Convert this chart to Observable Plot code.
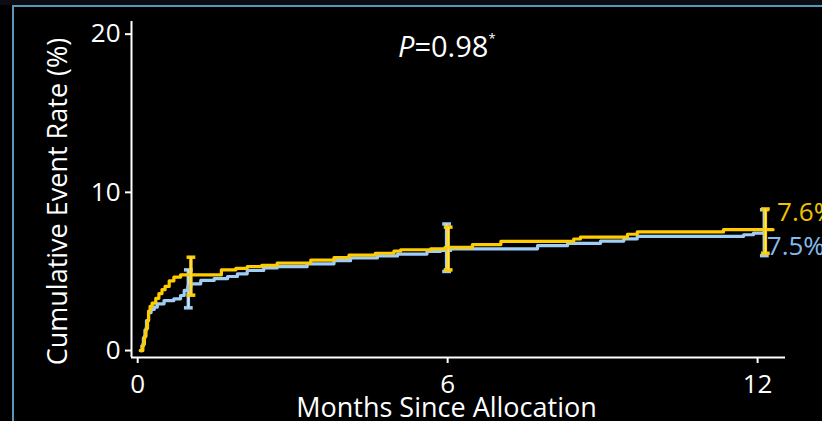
<!DOCTYPE html>
<html>
<head>
<meta charset="utf-8">
<script src="https://cdn.jsdelivr.net/npm/d3@7"></script>
<script src="https://cdn.jsdelivr.net/npm/@observablehq/plot@0.6"></script>
<style>
  html, body { margin: 0; padding: 0; background: #000; overflow: hidden; }
  #wrap { position: relative; width: 822px; height: 421px; background: #000; }
  #topstrip { position: absolute; left: 0; top: 0; width: 822px; height: 5px; background: #0b0c14; }
  #frame { position: absolute; left: 12px; top: 5px; width: 900px; height: 500px;
           border-left: 2px solid #5b95b9; border-top: 2px solid #5b95b9; pointer-events: none; }
  #pval { position: absolute; left: 398px; top: 31px; font-family: "Open Sans", sans-serif;
          font-size: 29px; color: #fff; line-height: 1; white-space: nowrap; }
  #pval sup { font-size: 13px; vertical-align: 14px; }
  svg { position: absolute; left: 0; top: 0; }
</style>
</head>
<body>
<div id="wrap">
  <div id="topstrip"></div>
  <div id="chart"></div>
  <div id="frame"></div>
  <div id="pval"><i>P</i>=0.98<sup>*</sup></div>
</div>
<script>
// ---- data ----
const seriesNames = ["Yellow group", "Blue group"];

const yellowT = [0.05,0.10,0.13,0.16,0.19,0.21,0.24,0.28,0.35,0.41,0.47,0.53,0.61,0.70,0.83,1.62,1.90,2.12,2.40,2.70,3.35,3.80,4.09,4.60,4.96,5.09,5.67,5.95,6.48,7.03,8.44,8.57,9.48,9.67,11.34,12.30];
const yellowV = [0.00,0.40,0.90,1.40,1.90,2.50,2.80,3.00,3.30,3.60,3.85,4.05,4.40,4.64,4.78,5.10,5.20,5.30,5.38,5.53,5.72,5.88,6.03,6.15,6.28,6.37,6.43,6.52,6.70,6.90,7.05,7.17,7.35,7.50,7.64,7.64];

const blueT = [0.05,0.08,0.11,0.14,0.17,0.21,0.26,0.32,0.38,0.51,0.70,0.83,0.90,0.97,1.03,1.22,1.48,1.74,1.93,2.12,2.44,2.70,3.28,3.80,4.12,4.64,5.03,5.60,5.86,6.06,7.74,8.32,8.96,9.41,9.67,11.73,11.92,12.10];
const blueV = [0.00,0.30,0.80,1.30,1.90,2.40,2.60,2.75,2.95,3.16,3.27,3.48,3.80,4.05,4.22,4.43,4.54,4.68,4.85,5.06,5.22,5.30,5.48,5.68,5.85,5.98,6.10,6.26,6.33,6.43,6.63,6.78,6.92,7.06,7.22,7.32,7.42,7.42];

// error bars: time, lower, upper
const yellowErrT  = [1.03, 6.01, 12.15];
const yellowErrLo = [3.5, 5.1, 6.15];
const yellowErrHi = [5.9, 7.8, 8.95];
const blueErrT  = [0.98, 5.98, 12.13];
const blueErrLo = [2.7, 5.0, 6.0];
const blueErrHi = [5.1, 8.0, 8.9];

const endLabels = ["7.6%", "7.5%"];
const xTicks = [0, 6, 12];
const yTicks = [0, 10, 20];
const xTitle = "Months Since Allocation";
const yTitle = "Cumulative Event Rate (%)";

// ---- styling ----
const YEL = "#ffcc00", YEL_T = "#f2c200", YEL_HI = "#fff3b0";
const BLU = "#a0cdf5", BLU_T = "#84bbec", BLU_HI = "#e4f2ff";
const FONT = "Open Sans, sans-serif";
const xDom = [-0.12, 12.54];
const yDom = [-0.44, 20.8];
const capHalf = 0.085;

const yellow = yellowT.map((t, i) => ({t, v: yellowV[i]}));
const blue = blueT.map((t, i) => ({t, v: blueV[i]}));
const mkErr = (T, Lo, Hi) => T.map((t, i) => ({t, lo: Lo[i], hi: Hi[i]}));
const yErr = mkErr(yellowErrT, yellowErrLo, yellowErrHi);
const bErr = mkErr(blueErrT, blueErrLo, blueErrHi);
const caps = e => e.flatMap(d => [{t: d.t, y: d.lo}, {t: d.t, y: d.hi}]);

const errMarks = (err, color, hi) => [
  Plot.ruleX(err, {x: "t", y1: "lo", y2: "hi", stroke: color, strokeWidth: 3.5}),
  Plot.link(caps(err), {x1: d => d.t - capHalf, x2: d => d.t + capHalf, y1: "y", y2: "y", stroke: color, strokeWidth: 3.5}),
  Plot.ruleX(err, {x: "t", y1: "lo", y2: "hi", stroke: hi, strokeWidth: 1, strokeOpacity: 0.8})
];

const lastY = yellow[yellow.length - 1], lastB = blue[blue.length - 1];

const chart = Plot.plot({
  width: 822,
  height: 421,
  marginLeft: 131,
  marginRight: 37,
  marginTop: 21,
  marginBottom: 64,
  style: {background: "transparent", color: "#fff", fontFamily: FONT, fontSize: "26px", overflow: "visible"},
  x: {domain: xDom, ticks: xTicks, tickSize: 6, tickPadding: 11, label: null, tickFormat: d => d},
  y: {domain: yDom, ticks: yTicks, tickSize: 6, tickPadding: 5, label: null, tickFormat: d => d},
  marks: [
    Plot.ruleX([xDom[0]], {stroke: "#fff", strokeWidth: 2}),
    Plot.ruleY([yDom[0]], {stroke: "#fff", strokeWidth: 2}),
    ...errMarks(bErr, BLU, BLU_HI),
    Plot.line(blue, {x: "t", y: "v", curve: "step-after", stroke: BLU, strokeWidth: 3.2}),
    Plot.line(yellow, {x: "t", y: "v", curve: "step-after", stroke: YEL, strokeWidth: 3.2}),
    ...errMarks(yErr, YEL, YEL_HI),
    Plot.text([lastY], {x: "t", y: "v", text: () => endLabels[0], fill: YEL_T, textAnchor: "start", lineAnchor: "middle", dx: 4, dy: -17, fontSize: 26}),
    Plot.text([lastB], {x: "t", y: "v", text: () => endLabels[1], fill: BLU_T, textAnchor: "start", lineAnchor: "middle", dx: 4, dy: 14, fontSize: 26}),
    Plot.text([xTitle], {frameAnchor: "bottom", text: d => d, textAnchor: "middle", lineAnchor: "middle", dx: -12, dy: 51, fill: "#fff", fontSize: 27}),
    Plot.text([yTitle], {frameAnchor: "left", text: d => d, rotate: -90, textAnchor: "middle", lineAnchor: "middle", dx: -73, dy: 12, fill: "#fff", fontSize: 27})
  ]
});
chart.querySelectorAll("g[aria-label$='axis'] path, g[aria-label$='tick'] path").forEach(p => p.setAttribute("stroke-width", "2"));
document.getElementById("chart").appendChild(chart);
</script>
</body>
</html>
